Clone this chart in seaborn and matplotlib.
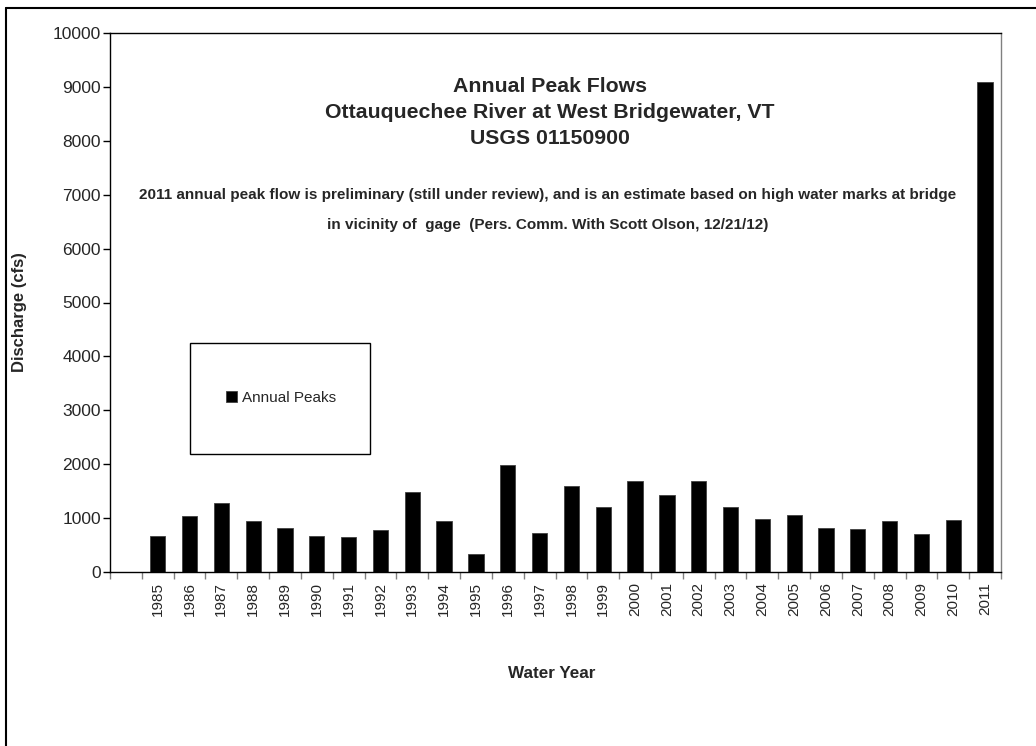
import numpy as np
import pandas as pd
import matplotlib
matplotlib.use("Agg")
import matplotlib.pyplot as plt
import seaborn as sns
from matplotlib.patches import Rectangle
from matplotlib.lines import Line2D
from matplotlib.ticker import FixedLocator

# ---- data ----
years = ["1985", "1986", "1987", "1988", "1989", "1990", "1991", "1992", "1993",
         "1994", "1995", "1996", "1997", "1998", "1999", "2000", "2001", "2002",
         "2003", "2004", "2005", "2006", "2007", "2008", "2009", "2010", "2011"]
peaks = [670, 1040, 1280, 940, 820, 670, 650, 770, 1480,
         940, 330, 1990, 720, 1590, 1200, 1690, 1420, 1690,
         1200, 990, 1060, 820, 790, 940, 700, 960, 9100]
series_name = "Annual Peaks"
y_ticks = [0, 1000, 2000, 3000, 4000, 5000, 6000, 7000, 8000, 9000, 10000]

title_lines = ["Annual Peak Flows",
               "Ottauquechee River at West Bridgewater, VT",
               "USGS 01150900"]
note_lines = ["2011 annual peak flow is preliminary (still under review), and is an estimate based on high water marks at bridge",
              "in vicinity of  gage  (Pers. Comm. With Scott Olson, 12/21/12)"]

df = pd.DataFrame({"Water Year": years, "Discharge": peaks, "Series": series_name})

# ---- style ----
sns.set_style("white")
plt.rcParams["font.family"] = ["Liberation Sans", "DejaVu Sans"]

W, H = 1036, 746
fig = plt.figure(figsize=(W / 100, H / 100), dpi=100)
fig.patch.set_facecolor("white")

def fx(px):
    return px / W

def fy(py):
    return 1 - py / H

ax = fig.add_axes([fx(110), fy(572), fx(1001) - fx(110), fy(33) - fy(572)])

sns.barplot(data=df, x="Water Year", y="Discharge", hue="Series",
            palette=["black"], saturation=1, width=0.48, ax=ax,
            edgecolor="#404040", linewidth=0.6, legend=True)

ax.set_xlim(-1.5, len(years) - 0.5)
ax.set_ylim(y_ticks[0], y_ticks[-1])
ax.yaxis.set_major_locator(FixedLocator(y_ticks))

for name, sp in ax.spines.items():
    sp.set_visible(True)
    sp.set_linewidth(1.0)
    sp.set_color("black")
ax.spines["right"].set_color("#808080")

ax.tick_params(axis="y", which="major", direction="out", length=5, width=1,
               color="black", labelsize=12.5, pad=1.5, left=True)
ax.tick_params(axis="x", which="major", length=0, pad=7, labelsize=11,
               labelrotation=90, bottom=True)
ax.xaxis.set_minor_locator(FixedLocator(np.arange(-1.5, len(years), 1.0)))
ax.tick_params(axis="x", which="minor", direction="out", length=5, width=1,
               color="#808080", bottom=True)

ax.set_xlabel("")
ax.set_ylabel("")
fig.text(fx(552), fy(673), "Water Year", ha="center", va="center",
         fontsize=12.3, fontweight="bold")
fig.text(fx(20), fy(312), "Discharge (cfs)", ha="center", va="center",
         rotation=90, fontsize=12, fontweight="bold")

# title and note
for i, t in enumerate(title_lines):
    fig.text(fx(550), fy(86 + 26 * i), t, ha="center", va="center",
             fontsize=15.3, fontweight="bold")
for i, t in enumerate(note_lines):
    fig.text(fx(548), fy(195 + 30 * i), t, ha="center", va="center",
             fontsize=11, fontweight="bold")

# legend
old = ax.get_legend()
handles = old.legend_handles if hasattr(old, "legend_handles") else old.legendHandles
old.remove()
leg = fig.legend(handles, [series_name], loc="center",
                 bbox_to_anchor=(fx(281), fy(398)), bbox_transform=fig.transFigure,
                 frameon=False, fontsize=11, handlelength=0.7, handleheight=0.7,
                 handletextpad=0.35, borderpad=0)
fig.add_artist(Rectangle((fx(190), fy(454)), fx(370) - fx(190), fy(343) - fy(454),
                         transform=fig.transFigure, fill=False,
                         edgecolor="black", linewidth=1.0))

# outer chart border (left and top edges visible)
fig.add_artist(Line2D([fx(6), fx(6)], [0, fy(8)], transform=fig.transFigure,
                      color="black", linewidth=1.5))
fig.add_artist(Line2D([fx(6), 1], [fy(8), fy(8)], transform=fig.transFigure,
                      color="black", linewidth=1.5))

fig.savefig("out.png", dpi=100, facecolor="white")
